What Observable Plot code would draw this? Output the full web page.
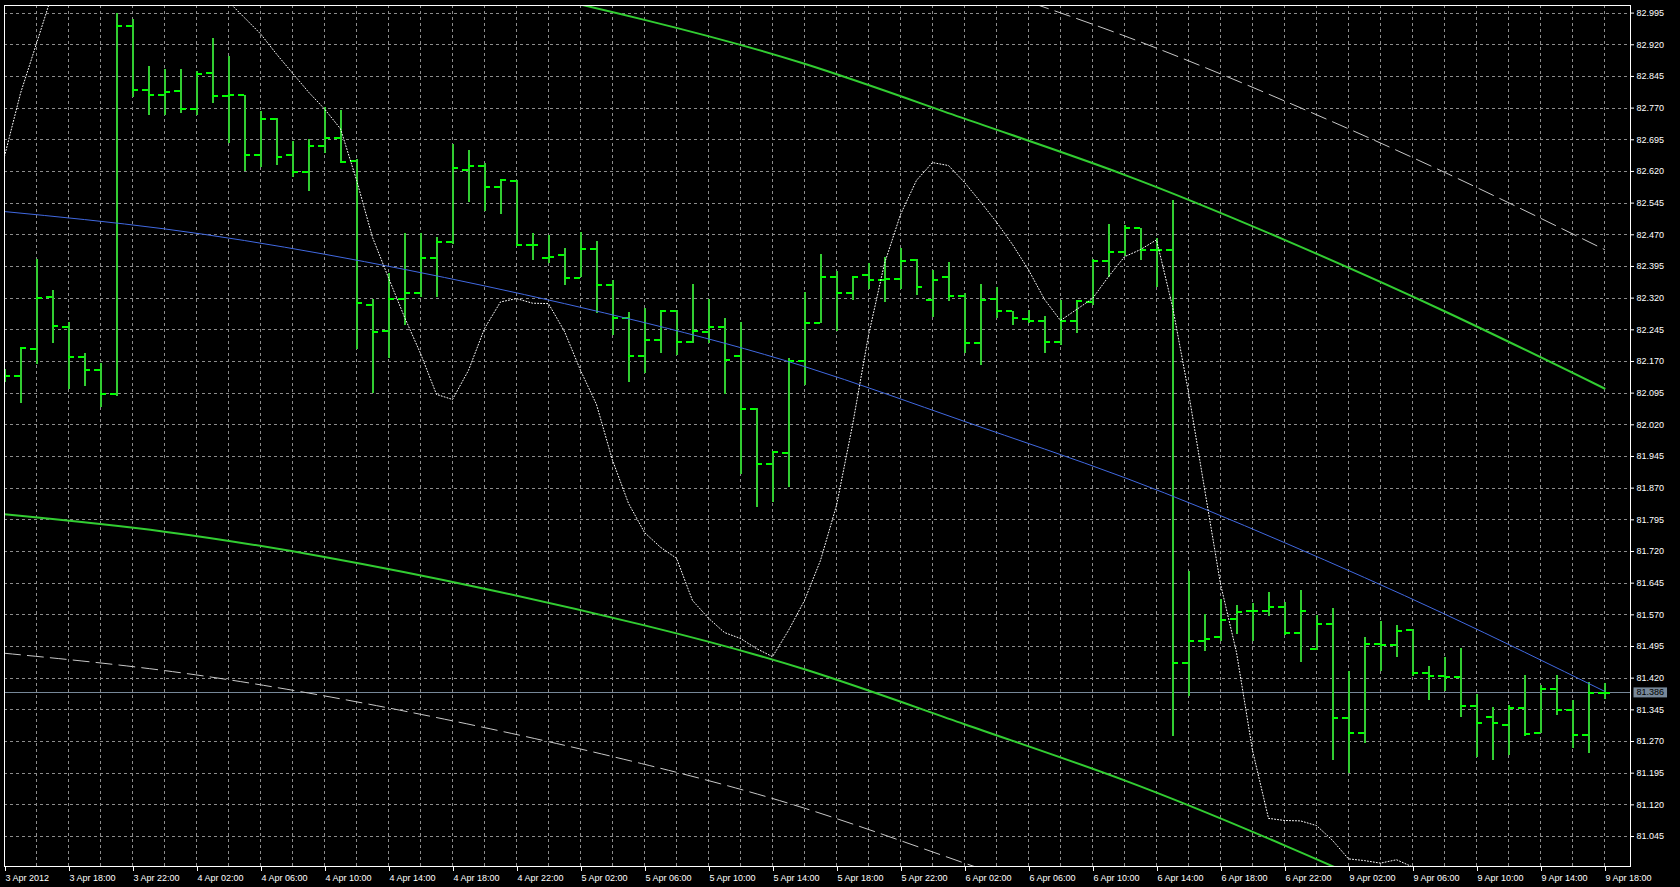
<!DOCTYPE html>
<html><head><meta charset="utf-8">
<script src="https://cdn.jsdelivr.net/npm/d3@7"></script>
<script src="https://cdn.jsdelivr.net/npm/@observablehq/plot@0.6"></script>
<style>html,body{margin:0;padding:0;background:#000;overflow:hidden}</style>
</head><body><div id="chart"></div>
<script>
// Hourly bars, 3 Apr 2012 14:00 .. 9 Apr 2012 18:00 (bar index 0..100)
const opens = [
82.135,82.135,82.199,82.322,82.251,82.180,82.149,82.092,82.964,82.812,
82.800,82.810,82.768,82.853,82.798,82.800,82.660,82.745,82.659,82.618,
82.680,82.699,82.645,82.304,82.241,82.318,82.332,82.415,82.452,82.624,
82.634,82.583,82.597,82.446,82.416,82.422,82.368,82.436,82.350,82.273,
82.182,82.220,82.289,82.216,82.239,82.251,82.184,82.058,81.927,81.953,
82.172,82.261,82.371,82.332,82.375,82.362,82.365,82.411,82.316,82.370,
82.324,82.213,82.319,82.289,82.270,82.266,82.215,82.267,82.312,82.407,
82.429,82.486,82.433,82.433,81.455,81.509,81.518,81.560,81.579,81.579,
81.588,81.527,81.488,81.549,81.325,81.291,81.500,81.498,81.533,81.432,
81.424,81.422,81.353,81.329,81.310,81.349,81.291,81.394,81.344,81.285,
81.386];
const highs = [
82.150,82.204,82.411,82.338,82.263,82.189,82.166,82.994,82.979,82.869,
82.861,82.862,82.857,82.935,82.893,82.801,82.762,82.746,82.690,82.695,
82.771,82.765,82.648,82.316,82.378,82.473,82.473,82.463,82.684,82.670,
82.638,82.602,82.599,82.473,82.468,82.438,82.476,82.453,82.362,82.287,
82.295,82.291,82.291,82.352,82.316,82.271,82.262,82.058,81.955,82.176,
82.334,82.424,82.384,82.371,82.402,82.416,82.437,82.411,82.386,82.405,
82.330,82.352,82.345,82.289,82.291,82.277,82.315,82.315,82.412,82.494,
82.491,82.486,82.461,82.552,81.673,81.571,81.607,81.592,81.596,81.622,
81.599,81.628,81.569,81.584,81.436,81.516,81.554,81.544,81.535,81.448,
81.468,81.490,81.381,81.351,81.356,81.426,81.402,81.426,81.367,81.410,
81.407];
const lows = [
82.120,82.071,82.162,82.213,82.103,82.111,82.060,82.087,82.796,82.753,
82.753,82.757,82.753,82.782,82.687,82.621,82.630,82.635,82.605,82.573,
82.663,82.641,82.198,82.094,82.177,82.255,82.322,82.322,82.446,82.547,
82.526,82.517,82.444,82.409,82.403,82.351,82.368,82.283,82.231,82.121,
82.142,82.190,82.185,82.213,82.213,82.091,81.902,81.825,81.836,81.871,
82.113,82.261,82.242,82.315,82.341,82.310,82.341,82.326,82.275,82.312,
82.190,82.160,82.272,82.255,82.259,82.190,82.209,82.236,82.302,82.370,
82.419,82.408,82.345,81.283,81.377,81.484,81.508,81.523,81.506,81.565,
81.522,81.458,81.486,81.225,81.195,81.265,81.436,81.470,81.424,81.366,
81.389,81.328,81.233,81.225,81.238,81.282,81.288,81.331,81.254,81.241,
81.370];
const closes = [
82.135,82.202,82.320,82.254,82.180,82.149,82.092,82.965,82.812,82.800,
82.808,82.768,82.850,82.798,82.800,82.660,82.745,82.654,82.618,82.680,
82.699,82.643,82.308,82.239,82.319,82.332,82.415,82.452,82.627,82.634,
82.583,82.599,82.446,82.447,82.417,82.368,82.436,82.350,82.273,82.184,
82.220,82.289,82.216,82.241,82.251,82.173,82.058,81.927,81.955,82.171,
82.261,82.371,82.332,82.371,82.362,82.365,82.409,82.346,82.364,82.324,
82.213,82.316,82.289,82.272,82.267,82.215,82.267,82.313,82.409,82.429,
82.486,82.433,82.433,81.457,81.509,81.513,81.558,81.577,81.579,81.588,
81.527,81.579,81.549,81.325,81.291,81.500,81.498,81.531,81.432,81.424,
81.422,81.353,81.315,81.313,81.349,81.288,81.394,81.344,81.285,81.386,
81.386];

// Regression channel, read at every 10th bar
const chanIdx = [0,10,20,30,40,50,60,70,80,90,100];
const chanMid   = [82.525,82.484,82.424,82.349,82.262,82.158,82.028,81.895,81.741,81.572,81.389];
const chanUp1   = [83.242,83.201,83.141,83.066,82.979,82.875,82.745,82.612,82.458,82.289,82.106];
const chanLo1   = [81.808,81.767,81.707,81.632,81.545,81.441,81.311,81.178,81.024,80.855,80.672];
const chanUp2   = [83.571,83.530,83.470,83.395,83.308,83.204,83.074,82.941,82.787,82.618,82.435];
const chanLo2   = [81.479,81.438,81.378,81.303,81.216,81.112,80.982,80.849,80.695,80.526,80.343];

// Dotted indicator, one value per bar from bar 0 (NaN = off the top of the chart)
const dotted = [
82.656,82.805,82.923,83.042,NaN,NaN,NaN,NaN,NaN,NaN,
NaN,NaN,NaN,83.060,83.022,82.984,82.946,82.898,82.853,82.808,
82.768,82.721,82.600,82.464,82.368,82.275,82.189,82.092,82.080,82.149,
82.248,82.311,82.319,82.308,82.307,82.241,82.149,82.068,81.936,81.834,
81.765,81.730,81.704,81.604,81.562,81.528,81.514,81.490,81.471,81.533,
81.604,81.699,81.829,82.019,82.232,82.402,82.518,82.599,82.641,82.634,
82.594,82.548,82.500,82.447,82.387,82.317,82.267,82.293,82.319,82.371,
82.418,82.435,82.458,82.300,82.097,81.869,81.643,81.481,81.249,81.088,
81.083,81.082,81.071,81.036,80.992,80.988,80.982,80.990,80.973];

const currentPrice = 81.386;

const priceTicks = [82.995,82.920,82.845,82.770,82.695,82.620,82.545,82.470,82.395,82.320,
  82.245,82.170,82.095,82.020,81.945,81.870,81.795,81.720,81.645,81.570,81.495,81.420,
  81.345,81.270,81.195,81.120,81.045];
const timeTickIdx = [0,4,8,12,16,20,24,28,32,36,40,44,48,52,56,60,64,68,72,76,80,84,88,92,96,100];
const timeLabels = ["3 Apr 2012","3 Apr 18:00","3 Apr 22:00","4 Apr 02:00","4 Apr 06:00","4 Apr 10:00",
  "4 Apr 14:00","4 Apr 18:00","4 Apr 22:00","5 Apr 02:00","5 Apr 06:00","5 Apr 10:00","5 Apr 14:00",
  "5 Apr 18:00","5 Apr 22:00","6 Apr 02:00","6 Apr 06:00","6 Apr 10:00","6 Apr 14:00","6 Apr 18:00",
  "6 Apr 22:00","9 Apr 02:00","9 Apr 06:00","9 Apr 10:00","9 Apr 14:00","9 Apr 18:00"];
const gridIdx = d3.range(2, 101, 2);

const bars = opens.map((o, i) => ({i, open: o, high: highs[i], low: lows[i], close: closes[i]}));
const chan = (vals) => chanIdx.map((i, k) => ({i, v: vals[k]}));
const dotData = dotted.map((v, i) => ({i, v}));
const labelMap = new Map(timeTickIdx.map((d, k) => [d, timeLabels[k]]));
const tickLen = 0.375;
const fmt = d3.format(".3f");

const gridStyle = {stroke: "#8c8c8c", strokeOpacity: 1, strokeWidth: 1, strokeDasharray: "3,3", shapeRendering: "crispEdges"};

const chart = Plot.plot({
  width: 1680, height: 887,
  marginLeft: 4, marginRight: 50, marginTop: 5, marginBottom: 21,
  style: {background: "#000", color: "#fff", fontSize: "9px", fontFamily: "'Liberation Sans', Arial, sans-serif"},
  x: {type: "linear", domain: [0, 101.625]},
  y: {domain: [80.974, 83.013]},
  marks: [
    Plot.ruleX(gridIdx, gridStyle),
    Plot.ruleY(priceTicks, gridStyle),
    Plot.ruleY([currentPrice], {stroke: "#778899", strokeWidth: 1, shapeRendering: "crispEdges"}),
    Plot.ruleX(bars, {x: "i", y1: "low", y2: "high", stroke: "#32cd32", strokeWidth: 2, shapeRendering: "crispEdges", clip: true}),
    Plot.ruleY(bars, {y: "open", x1: d => d.i - tickLen, x2: "i", stroke: "#00ff00", strokeWidth: 2, shapeRendering: "crispEdges", clip: true}),
    Plot.ruleY(bars, {y: "close", x1: "i", x2: d => d.i + tickLen, stroke: "#00ff00", strokeWidth: 2, shapeRendering: "crispEdges", clip: true}),
    Plot.line(chan(chanUp2), {x: "i", y: "v", stroke: "#c8c8c8", strokeWidth: 1, strokeDasharray: "16,7", curve: "natural", clip: true}),
    Plot.line(chan(chanLo2), {x: "i", y: "v", stroke: "#c8c8c8", strokeWidth: 1, strokeDasharray: "16,7", curve: "natural", clip: true}),
    Plot.line(chan(chanUp1), {x: "i", y: "v", stroke: "#32cd32", strokeWidth: 2, curve: "natural", clip: true}),
    Plot.line(chan(chanLo1), {x: "i", y: "v", stroke: "#32cd32", strokeWidth: 2, curve: "natural", clip: true}),
    Plot.line(chan(chanMid), {x: "i", y: "v", stroke: "#4169e1", strokeWidth: 1, curve: "natural", clip: true}),
    Plot.line(dotData, {x: "i", y: "v", stroke: "#ffffff", strokeWidth: 1, strokeDasharray: "1,2", clip: true}),
    Plot.frame({stroke: "#ffffff", strokeWidth: 1}),
    Plot.axisY(priceTicks, {anchor: "right", label: null, tickSize: 3, tickPadding: 3, tickFormat: fmt, fill: "#fff", stroke: "#fff"}),
    Plot.axisX(timeTickIdx, {anchor: "bottom", label: null, tickSize: 5, tickPadding: 3, textAnchor: "start", dx: 1, tickFormat: d => labelMap.get(d), fill: "#fff", stroke: "#fff"}),
    Plot.text([currentPrice], {y: d => d, frameAnchor: "right", dx: 6, textAnchor: "start", text: d => fmt(d), fill: "#000"})
  ]
});
document.getElementById("chart").append(chart);

// grey box behind the current-price label
const label = fmt(currentPrice);
const t = Array.from(chart.querySelectorAll("text")).find(el => el.textContent === label);
if (t) {
  const b = t.getBBox();
  const r = document.createElementNS("http://www.w3.org/2000/svg", "rect");
  r.setAttribute("x", b.x - 3);
  r.setAttribute("y", b.y);
  r.setAttribute("width", b.width + 6);
  r.setAttribute("height", b.height);
  r.setAttribute("fill", "#778899");
  if (t.getAttribute("transform")) r.setAttribute("transform", t.getAttribute("transform"));
  t.parentNode.insertBefore(r, t);
}
</script>
</body></html>
